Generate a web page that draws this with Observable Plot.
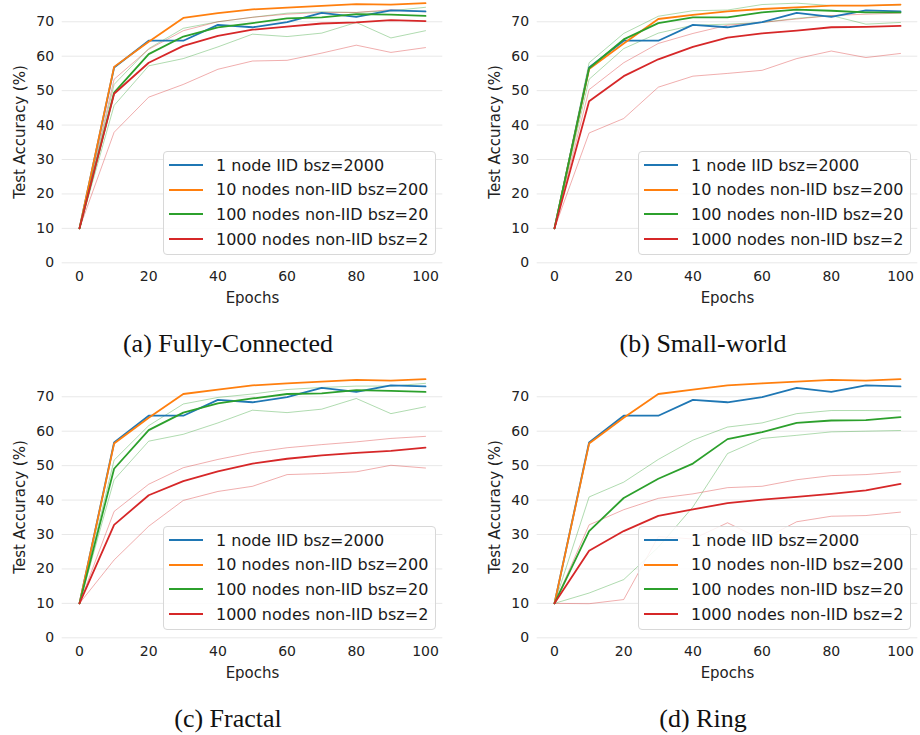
<!DOCTYPE html>
<html><head><meta charset="utf-8">
<script src="https://cdn.jsdelivr.net/npm/d3@7"></script>
<script src="https://cdn.jsdelivr.net/npm/@observablehq/plot@0.6"></script>
<style>
body{margin:0;background:#fff;}
#fig{position:relative;width:920px;height:735px;overflow:hidden;font-family:"DejaVu Sans",sans-serif;}
.panel{position:absolute;}
.legend{position:absolute;left:163px;top:151px;width:273px;height:104px;border:1px solid #d8d8d8;border-radius:4px;background:rgba(255,255,255,0.85);box-sizing:border-box;}
.row{position:absolute;left:0;height:20px;display:flex;align-items:center;font-size:16px;color:#1a1a1a;white-space:nowrap;}
.swatch{width:34px;height:0;border-top:2px solid;margin-left:5px;margin-right:13px;}
.caption{position:absolute;font-family:"Liberation Serif","Times New Roman",serif;font-size:26px;color:#111;transform:translate(-50%,-50%);white-space:nowrap;}
</style>
</head><body>
<div id="fig"></div>
<script>
const epochs = [0,10,20,30,40,50,60,70,80,90,100];
const seriesNames = ["1 node IID bsz=2000","10 nodes non-IID bsz=200","100 nodes non-IID bsz=20","1000 nodes non-IID bsz=2"];
const seriesColors = ["#1f77b4","#ff7f0e","#2ca02c","#d62728"];
const panelCaptions = ["(a) Fully-Connected","(b) Small-world","(c) Fractal","(d) Ring"];
const xTicks = [0,20,40,60,80,100];
const yTicks = [0,10,20,30,40,50,60,70];

// 1 node IID (same in every panel)
const iidMean = [10,56.7,64.5,64.5,69.1,68.4,69.9,72.6,71.4,73.3,73.0];

// 10 nodes non-IID
const orangeFC   = [10,56.9,64.2,71.1,72.5,73.6,74.1,74.6,75.1,75.0,75.4];
const orangeSW   = [10,56.3,63.7,70.8,72.0,73.0,73.7,74.2,74.7,74.7,75.0];
const orangeFR   = [10,56.4,63.9,70.8,72.1,73.3,73.9,74.4,74.9,74.7,75.1];
const orangeRing = [10,56.4,63.9,70.8,72.1,73.3,73.9,74.4,74.9,74.7,75.1];

// 100 nodes non-IID: mean / max / min
const greenFC     = [10,49.4,60.6,65.7,68.4,69.6,71.0,71.3,72.2,72.1,71.7];
const greenFCmax  = [10,51.8,62.2,68.1,70.0,71.3,72.5,72.9,72.7,73.2,74.2];
const greenFCmin  = [10,45.7,57.2,59.3,62.7,66.4,65.7,66.7,69.8,65.3,67.4];
const greenSW     = [10,56.5,64.9,69.6,71.3,71.3,72.7,73.5,73.2,72.7,72.7];
const greenSWmax  = [10,58.1,66.6,71.6,73.2,73.4,75.0,75.4,74.7,74.7,74.9];
const greenSWmin  = [10,53.3,62.2,66.7,69.0,69.3,69.8,71.0,71.8,69.3,69.8];
const greenFR     = [10,49.1,60.3,65.4,68.1,69.5,70.8,71.0,71.9,71.7,71.4];
const greenFRmax  = [10,51.6,61.6,67.9,69.8,70.8,72.1,72.7,73.1,73.1,73.9];
const greenFRmin  = [10,45.9,57.1,59.1,62.4,66.1,65.4,66.4,69.5,65.1,67.1];
const greenRing    = [10,31.0,40.6,46.2,50.6,57.7,59.7,62.4,63.1,63.2,64.1];
const greenRingmax = [10,40.9,45.2,51.8,57.4,61.2,62.4,65.1,66.0,66.0,65.9];
const greenRingmin = [10,13.0,16.9,26.3,38.0,53.5,57.9,58.8,59.8,60.0,60.2];

// 1000 nodes non-IID: mean / max / min
const redFC     = [10,49.1,58.1,63.0,65.9,67.7,68.6,69.5,69.8,70.5,70.2];
const redFCmax  = [10,53.3,62.0,67.4,70.0,71.3,72.2,72.7,72.7,73.5,72.9];
const redFCmin  = [10,37.9,48.1,51.8,56.2,58.6,58.8,60.9,63.2,61.1,62.5];
const redSW     = [10,46.9,54.2,59.1,62.7,65.4,66.6,67.4,68.4,68.5,68.8];
const redSWmax  = [10,50.3,58.1,63.7,66.6,69.0,69.8,70.8,71.8,72.2,72.5];
const redSWmin  = [10,37.7,41.9,51.0,54.2,55.0,55.9,59.3,61.5,59.6,60.8];
const redFR     = [10,32.8,41.4,45.5,48.3,50.6,52.0,53.0,53.7,54.3,55.2];
const redFRmax  = [10,36.7,44.6,49.4,51.8,53.8,55.2,56.1,56.9,57.9,58.5];
const redFRmin  = [10,22.6,32.4,39.9,42.5,44.0,47.4,47.7,48.2,50.1,49.3];
const redRing    = [10,25.3,31.0,35.4,37.3,39.1,40.1,40.9,41.8,42.8,44.7];
const redRingmax = [10,32.8,37.2,40.5,41.8,43.6,44.0,45.9,47.1,47.4,48.2];
const redRingmin = [10,9.9,11.1,29.4,28.7,33.4,28.5,33.7,35.3,35.5,36.5];

const panels = [
  {left:0,   top:0,   mean:[iidMean,orangeFC,greenFC,redFC],       thin:[[greenFCmax,greenFCmin],[redFCmax,redFCmin]]},
  {left:475, top:0,   mean:[iidMean,orangeSW,greenSW,redSW],       thin:[[greenSWmax,greenSWmin],[redSWmax,redSWmin]]},
  {left:0,   top:375, mean:[iidMean,orangeFR,greenFR,redFR],       thin:[[greenFRmax,greenFRmin],[redFRmax,redFRmin]]},
  {left:475, top:375, mean:[iidMean,orangeRing,greenRing,redRing], thin:[[greenRingmax,greenRingmin],[redRingmax,redRingmin]]}
];

const toRows = (arr) => epochs.map((e,i)=>({epoch:e, value:arr[i]}));
const fig = document.getElementById("fig");

panels.forEach((p, pi) => {
  const marks = [
    Plot.gridY(yTicks, {stroke:"#e8e8e8", strokeOpacity:1, strokeWidth:1})
  ];
  p.thin.forEach((pair, k) => {
    const color = seriesColors[k+2];
    pair.forEach(arr => marks.push(Plot.line(toRows(arr), {x:"epoch", y:"value", stroke:color, strokeWidth:0.9, strokeOpacity:0.42})));
  });
  p.mean.forEach((arr, k) => {
    marks.push(Plot.line(toRows(arr), {x:"epoch", y:"value", stroke:seriesColors[k], strokeWidth:1.8}));
  });
  marks.push(Plot.axisX(xTicks, {tickSize:0, tickPadding:8, fontSize:14, color:"#222", label:null}));
  marks.push(Plot.axisX({tickSize:0, ticks:[], fontSize:15, color:"#222", label:"Epochs", labelAnchor:"center", labelArrow:"none", labelOffset:40}));
  marks.push(Plot.axisY(yTicks, {tickSize:0, tickPadding:8, fontSize:14, color:"#222", label:null}));
  marks.push(Plot.axisY({tickSize:0, ticks:[], fontSize:15, color:"#222", label:"Test Accuracy (%)", labelAnchor:"center", labelArrow:"none", labelOffset:48}));

  const chart = Plot.plot({
    width:445, height:310,
    marginLeft:61.7, marginRight:2.7, marginTop:0.6, marginBottom:47.7,
    style:{fontFamily:"DejaVu Sans, sans-serif", fontSize:"14px", color:"#222", background:"transparent"},
    x:{domain:[-5,105]},
    y:{domain:[0,76]},
    marks
  });
  const wrap = document.createElement("div");
  wrap.className = "panel";
  wrap.style.left = p.left+"px";
  wrap.style.top = p.top+"px";
  wrap.appendChild(chart);

  const leg = document.createElement("div");
  leg.className = "legend";
  seriesNames.forEach((name, k) => {
    const row = document.createElement("div");
    row.className = "row";
    row.style.top = (3 + k*24.7)+"px";
    const sw = document.createElement("div");
    sw.className = "swatch";
    sw.style.borderColor = seriesColors[k];
    const t = document.createElement("span");
    t.textContent = name;
    row.appendChild(sw); row.appendChild(t);
    leg.appendChild(row);
  });
  wrap.appendChild(leg);
  fig.appendChild(wrap);

  const cap = document.createElement("div");
  cap.className = "caption";
  cap.textContent = panelCaptions[pi];
  cap.style.left = (p.left + 228)+"px";
  cap.style.top = (p.top + 344)+"px";
  fig.appendChild(cap);
});
</script>
</body></html>
